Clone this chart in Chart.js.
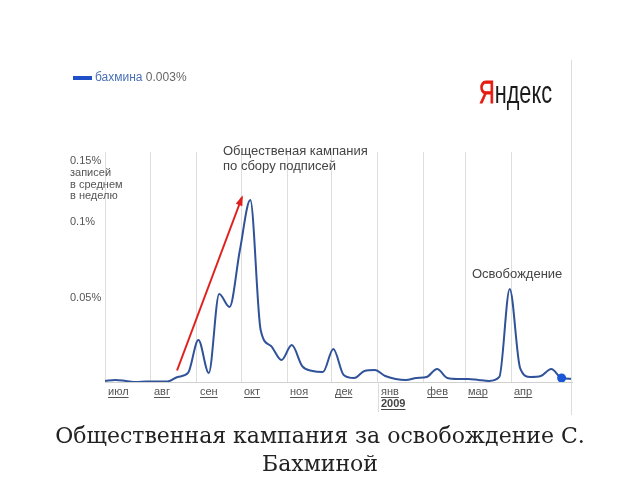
<!DOCTYPE html>
<html>
<head>
<meta charset="utf-8">
<script src="https://cdn.jsdelivr.net/npm/chart.js@4"></script>
<style>
  html, body { margin: 0; padding: 0; background: #fff; }
  #wrap { width: 640px; height: 480px; }
</style>
</head>
<body>
<div id="wrap"><canvas id="trend"></canvas></div>
<script>
// weekly share of posts, %, starting 1 Jul 2008
const weeklyValues = [
  0.0007, 0.0013, 0.0007, 0.0, 0.0003, 0.0003, 0.0003, 0.0033, 0.0059, 0.0274,
  0.0059, 0.0574, 0.0489, 0.0861, 0.1187, 0.0339, 0.0235, 0.0143, 0.0241, 0.0104,
  0.0072, 0.0065, 0.0215, 0.0046, 0.0026, 0.0072, 0.0078, 0.0039, 0.0020, 0.0013,
  0.0026, 0.0033, 0.0085, 0.0026, 0.0020, 0.0020, 0.0013, 0.0007, 0.0033, 0.0607,
  0.0091, 0.0033, 0.0039, 0.0085, 0.0026, 0.0020
]
const markedWeek = 44

// month boundaries in days since 1 Jul 2008
const monthDays = [0, 31, 62, 92, 123, 153, 184, 215, 243, 274]
const monthNames = ['июл', 'авг', 'сен', 'окт', 'ноя', 'дек', 'янв', 'фев', 'мар', 'апр']
const yearLabel = { month: 6, text: '2009' }

const yTicks = [0.05, 0.1, 0.15]
const yTickLabels = [['0.05%'], ['0.1%'], ['0.15%', 'записей', 'в среднем', 'в неделю']]

const seriesName = 'бахмина'
const seriesAverage = '0.003%'

const noteCampaign = ['Общественая кампания', 'по сбору подписей']
const noteRelease = 'Освобождение'
const titleLines = ['Общественная кампания за освобождение С.', 'Бахминой']

const points = weeklyValues.map((v, i) => ({ x: i * 7, y: v }))

const sans = '"Liberation Sans", Arial, sans-serif'

const overlay = {
  id: 'overlay',
  afterDraw (chart) {
    const ctx = chart.ctx
    const xs = chart.scales.x
    const ys = chart.scales.y
    const area = chart.chartArea
    ctx.save()

    // right border line and jan extension
    ctx.strokeStyle = '#dcdcdc'
    ctx.lineWidth = 1
    ctx.beginPath()
    ctx.moveTo(571.5, 60)
    ctx.lineTo(571.5, 415)
    const janX = Math.round(xs.getPixelForValue(monthDays[yearLabel.month])) + 0.5
    ctx.moveTo(janX, area.bottom)
    ctx.lineTo(janX, 412)
    ctx.stroke()

    // y labels
    ctx.fillStyle = '#555'
    ctx.font = '11px ' + sans
    ctx.textAlign = 'left'
    ctx.textBaseline = 'middle'
    yTicks.forEach((t, i) => {
      const lines = yTickLabels[i]
      let y = ys.getPixelForValue(t) - 7
      if (lines.length > 1) y = area.top + 9
      lines.forEach((l, j) => ctx.fillText(l, 70, y + j * 11.8))
    })

    // month labels
    ctx.fillStyle = '#555'
    monthNames.forEach((m, i) => {
      const x = Math.round(xs.getPixelForValue(monthDays[i])) + 3
      ctx.font = '11px ' + sans
      ctx.fillText(m, x, 392)
      const w = ctx.measureText(m).width
      ctx.fillRect(x, 397, w, 1)
      if (i === yearLabel.month) {
        ctx.font = 'bold 11px ' + sans
        ctx.fillStyle = '#444'
        ctx.fillText(yearLabel.text, x, 404)
        const w2 = ctx.measureText(yearLabel.text).width
        ctx.fillRect(x, 409, w2, 1)
        ctx.fillStyle = '#555'
      }
    })

    // legend
    ctx.fillStyle = '#1f50c8'
    ctx.fillRect(73, 76, 19, 4)
    ctx.font = '12px ' + sans
    ctx.fillStyle = '#4a6fb5'
    ctx.fillText(seriesName, 95, 78)
    const nw = ctx.measureText(seriesName + ' ').width
    ctx.fillStyle = '#666'
    ctx.fillText(seriesAverage, 95 + nw, 78)

    // yandex logo
    ctx.font = '32px ' + sans
    ctx.textBaseline = 'alphabetic'
    const full = ctx.measureText('Яндекс').width
    const sx = 73 / full
    ctx.save()
    ctx.translate(479, 103)
    ctx.scale(sx, 1)
    ctx.fillStyle = '#e61a0f'
    ctx.fillText('Я', 0, 0)
    ctx.lineWidth = 0.8
    ctx.strokeStyle = '#e61a0f'
    ctx.strokeText('Я', 0, 0)
    const yw = ctx.measureText('Я').width
    ctx.fillStyle = '#1a1a1a'
    ctx.fillText('ндекс', yw, 0)
    ctx.restore()

    // annotations
    ctx.textBaseline = 'middle'
    ctx.font = '13px ' + sans
    ctx.fillStyle = '#444'
    noteCampaign.forEach((l, j) => ctx.fillText(l, 223, 151 + j * 15))
    ctx.fillText(noteRelease, 472, 274)

    // red arrow toward the campaign peak
    const ax0 = xs.getPixelForValue(48.6), ay0 = ys.getPixelForValue(0.0075)
    const ax1 = xs.getPixelForValue(92.4), ay1 = ys.getPixelForValue(0.1205)
    ctx.strokeStyle = '#e0201c'
    ctx.fillStyle = '#e0201c'
    ctx.lineWidth = 2
    ctx.beginPath()
    ctx.moveTo(ax0, ay0)
    ctx.lineTo(ax1, ay1)
    ctx.stroke()
    const ang = Math.atan2(ay1 - ay0, ax1 - ax0)
    ctx.beginPath()
    ctx.moveTo(ax1 + 2 * Math.cos(ang), ay1 + 2 * Math.sin(ang))
    ctx.lineTo(ax1 - 9 * Math.cos(ang - 0.4), ay1 - 9 * Math.sin(ang - 0.4))
    ctx.lineTo(ax1 - 9 * Math.cos(ang + 0.4), ay1 - 9 * Math.sin(ang + 0.4))
    ctx.closePath()
    ctx.fill()

    // bottom title
    ctx.font = '22px "DejaVu Serif", serif'
    ctx.fillStyle = '#222'
    ctx.textAlign = 'center'
    titleLines.forEach((l, j) => ctx.fillText(l, 320, 437 + j * 28))

    ctx.restore()
  }
}

new Chart(document.getElementById('trend'), {
  type: 'line',
  data: {
    datasets: [{
      label: seriesName,
      data: points,
      borderColor: '#2f5299',
      borderWidth: 2,
      cubicInterpolationMode: 'monotone',
      pointRadius: ctx => ctx.dataIndex === markedWeek ? 4.5 : 0,
      pointBackgroundColor: '#1a56d6',
      pointBorderWidth: 0,
      fill: false
    }]
  },
  options: {
    responsive: true,
    maintainAspectRatio: false,
    animation: false,
    layout: { padding: { left: 105, right: 68, top: 152, bottom: 98 } },
    plugins: { legend: { display: false }, tooltip: { enabled: false } },
    scales: {
      x: {
        type: 'linear',
        min: 0,
        max: 315,
        afterBuildTicks: axis => { axis.ticks = monthDays.map(v => ({ value: v })) },
        ticks: { display: false },
        grid: { color: '#dedede', drawTicks: false },
        border: { color: '#d0d0d0' }
      },
      y: {
        min: 0,
        max: 0.15,
        display: false
      }
    }
  },
  plugins: [overlay]
})
</script>
</body>
</html>
